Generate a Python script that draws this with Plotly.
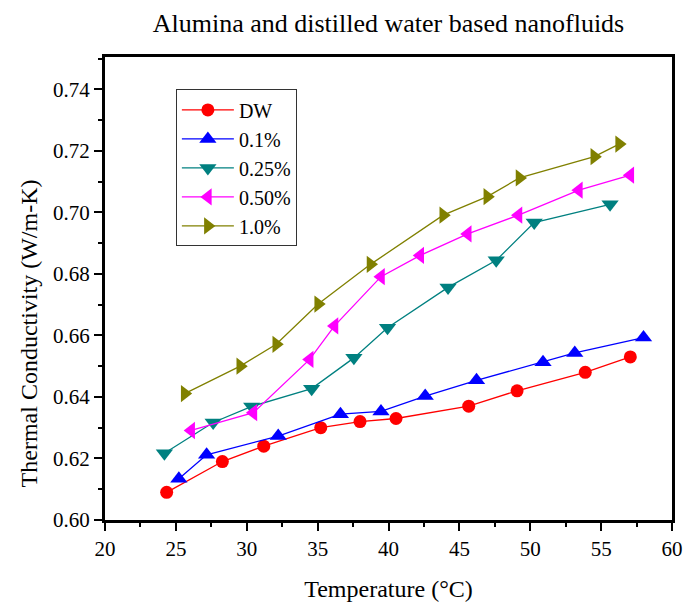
import plotly.graph_objects as go

# Thermal conductivity of alumina / distilled-water nanofluids vs temperature
dw_temp = [24.35, 28.28, 31.2, 35.22, 37.99, 40.53, 45.66, 49.07, 53.88, 57.06]
dw_k = [0.609, 0.619, 0.624, 0.630, 0.632, 0.633, 0.637, 0.642, 0.648, 0.653]

c01_temp = [25.21, 27.17, 32.22, 36.61, 39.47, 42.59, 46.21, 50.9, 53.14, 57.99]
c01_k = [0.6134, 0.6212, 0.6273, 0.6344, 0.6353, 0.6403, 0.6454, 0.6513, 0.6543, 0.6593]

c025_temp = [24.19, 27.63, 30.35, 34.58, 37.56, 39.93, 44.2, 47.6, 50.28, 55.63]
c025_k = [0.6217, 0.6317, 0.6369, 0.6427, 0.6527, 0.6625, 0.6756, 0.6844, 0.6967, 0.7026]

c050_temp = [26.08, 30.47, 34.44, 36.19, 39.47, 42.24, 45.59, 49.17, 53.43, 57.06]
c050_k = [0.6291, 0.6349, 0.6522, 0.6631, 0.6791, 0.6860, 0.6930, 0.6991, 0.7072, 0.7121]

c10_temp = [25.62, 29.54, 32.08, 35.04, 38.73, 43.86, 46.97, 49.24, 54.52, 56.27]
c10_k = [0.6411, 0.6500, 0.6571, 0.6702, 0.6831, 0.6991, 0.7051, 0.7112, 0.7181, 0.7222]

series = [
    ("DW", dw_temp, dw_k, "#FF0000", "circle", 13),
    ("0.1%", c01_temp, c01_k, "#0000FF", "triangle-up", 15),
    ("0.25%", c025_temp, c025_k, "#008080", "triangle-down", 15),
    ("0.50%", c050_temp, c050_k, "#FF00FF", "triangle-left", 15),
    ("1.0%", c10_temp, c10_k, "#808000", "triangle-right", 15),
]

SERIF = "Liberation Serif"

fig = go.Figure()
for name, xs, ys, color, symbol, size in series:
    fig.add_trace(go.Scatter(
        x=xs, y=ys, name=name, mode="lines+markers",
        line=dict(color=color, width=1.3),
        marker=dict(symbol=symbol, size=size, color=color),
    ))

axis_common = dict(
    showgrid=False, zeroline=False,
    showline=True, linecolor="black", linewidth=3, mirror=True,
    ticks="outside", ticklen=8, tickwidth=2, tickcolor="black",
    tickfont=dict(family=SERIF, size=21, color="black"),
)

fig.update_xaxes(
    range=[20, 60], tick0=20, dtick=5,
    minor=dict(ticks="outside", ticklen=4, tickwidth=2, tickcolor="black", dtick=2.5),
    title=dict(text="Temperature (°C)", font=dict(family=SERIF, size=24, color="black"), standoff=20),
    **axis_common,
)
fig.update_yaxes(
    range=[0.60, 0.7505], tick0=0.60, dtick=0.02, tickformat=".2f",
    minor=dict(ticks="outside", ticklen=4, tickwidth=2, tickcolor="black", dtick=0.01),
    **axis_common,
)

# y-axis title placed as a rotated annotation so it can sit below the axis midpoint
fig.add_annotation(
    text="Thermal Conductivity (W/m-K)", textangle=-90,
    xref="paper", yref="paper", x=-0.135, y=0.404,
    xanchor="center", yanchor="middle", showarrow=False,
    font=dict(family=SERIF, size=24, color="black"),
)

fig.update_layout(
    width=695, height=610,
    margin=dict(l=105, r=12, t=57, b=85),
    paper_bgcolor="white", plot_bgcolor="white",
    font=dict(family=SERIF, color="black"),
    title=dict(text="Alumina and distilled water based nanofluids",
               font=dict(family=SERIF, size=26, color="black"),
               x=0.5, xref="paper", xanchor="center", y=0.963, yanchor="middle"),
    showlegend=True,
    legend=dict(x=0.125, y=0.93, xanchor="left", yanchor="top",
                bordercolor="#333333", borderwidth=1, bgcolor="white",
                font=dict(family=SERIF, size=20, color="black"),
                itemwidth=52, tracegroupgap=0, itemsizing="trace"),
)

fig.write_html("out.html")
